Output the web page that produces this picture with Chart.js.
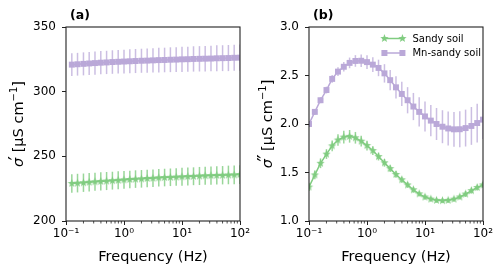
<!DOCTYPE html>
<html>
<head>
<meta charset="utf-8">
<script src="https://cdn.jsdelivr.net/npm/chart.js@4.4.1/dist/chart.umd.min.js"></script>
<style>
  html, body { margin: 0; padding: 0; background: #fff; }
  #wrap { position: relative; width: 500px; height: 274px; overflow: hidden; }
  .panel { position: absolute; top: 0; }
</style>
</head>
<body>
<div id="wrap">
  <canvas id="ca" class="panel" style="left:0" width="262" height="274"></canvas>
  <canvas id="cb" class="panel" style="left:250px" width="250" height="274"></canvas>
</div>
<script>
// frequencies (Hz), 10 per decade
const freq = [0.1, 0.126, 0.158, 0.2, 0.251, 0.316, 0.398, 0.501, 0.631, 0.794,
  1, 1.26, 1.58, 2, 2.51, 3.16, 3.98, 5.01, 6.31, 7.94,
  10, 12.6, 15.8, 20, 25.1, 31.6, 39.8, 50.1, 63.1, 79.4, 100];
const freqA = freq.slice(1);

const seriesNames = ['Sandy soil', 'Mn-sandy soil'];

// (a) real conductivity, uS/cm
const sandyA = [229.0, 229.3, 229.6, 230.0, 230.3, 230.6, 230.9, 231.2, 231.5, 231.8,
  232.1, 232.4, 232.6, 232.9, 233.1, 233.4, 233.6, 233.8, 234.0, 234.2,
  234.4, 234.6, 234.8, 235.0, 235.1, 235.3, 235.4, 235.6, 235.7, 235.9];
const sandyErrA = [7.2, 7.2, 7.1, 7.1, 7.0, 7.0, 7.0, 6.9, 6.9, 6.9,
  6.8, 6.8, 6.8, 6.8, 6.8, 6.8, 6.8, 6.8, 6.8, 6.9,
  6.9, 6.9, 7.0, 7.0, 7.0, 7.1, 7.1, 7.2, 7.2, 7.3];
const mnA = [320.9, 321.2, 321.5, 321.8, 322.1, 322.4, 322.6, 322.9, 323.1, 323.3,
  323.5, 323.7, 323.9, 324.0, 324.2, 324.4, 324.5, 324.7, 324.8, 325.0,
  325.1, 325.3, 325.4, 325.5, 325.6, 325.8, 325.9, 326.0, 326.2, 326.3];
const mnErrA = [8.8, 8.8, 8.9, 8.9, 9.0, 9.0, 9.0, 9.1, 9.1, 9.2,
  9.2, 9.3, 9.3, 9.4, 9.4, 9.5, 9.5, 9.6, 9.6, 9.7,
  9.7, 9.8, 9.8, 9.9, 9.9, 10.0, 10.0, 10.1, 10.1, 10.2];

// (b) imaginary conductivity, uS/cm
const sandyB = [1.35, 1.475, 1.595, 1.69, 1.775, 1.835, 1.865, 1.873, 1.858, 1.823,
  1.778, 1.726, 1.664, 1.6, 1.54, 1.48, 1.425, 1.372, 1.322, 1.28,
  1.247, 1.226, 1.213, 1.21, 1.213, 1.225, 1.248, 1.278, 1.313, 1.345, 1.372];
const sandyErrB = [0.04, 0.045, 0.05, 0.05, 0.055, 0.06, 0.065, 0.065, 0.06, 0.055,
  0.05, 0.045, 0.04, 0.04, 0.035, 0.035, 0.03, 0.03, 0.03, 0.025,
  0.025, 0.025, 0.025, 0.025, 0.025, 0.025, 0.025, 0.03, 0.03, 0.03, 0.03];
const mnB = [2.00, 2.125, 2.245, 2.35, 2.465, 2.54, 2.59, 2.63, 2.65, 2.652,
  2.638, 2.612, 2.578, 2.522, 2.452, 2.378, 2.31, 2.245, 2.18, 2.125,
  2.078, 2.035, 2.0, 1.972, 1.954, 1.945, 1.946, 1.958, 1.98, 2.01, 2.045];
const mnErrB = [0.03, 0.03, 0.03, 0.035, 0.04, 0.045, 0.05, 0.055, 0.06, 0.065,
  0.07, 0.075, 0.085, 0.095, 0.105, 0.115, 0.125, 0.135, 0.14, 0.15,
  0.155, 0.16, 0.165, 0.17, 0.175, 0.18, 0.185, 0.19, 0.195, 0.2, 0.2];

const xTickVals = [0.1, 1, 10, 100];
const xTickLabels = ['10⁻¹', '10⁰', '10¹', '10²'];
const yTicksA = [200, 250, 300, 350];
const yTicksB = [1.0, 1.5, 2.0, 2.5, 3.0];

const green = '#80cc80';
const greenBar = 'rgba(128,204,128,0.8)';
const purple = '#baa8d8';
const purpleBar = 'rgba(186,168,216,0.75)';
const FONT = 'DejaVu Sans';

function starImage(color, r) {
  const s = Math.ceil(r * 2 + 2);
  const c = document.createElement('canvas');
  c.width = c.height = s;
  const g = c.getContext('2d');
  g.fillStyle = color;
  g.beginPath();
  for (let k = 0; k < 10; k++) {
    const ang = -Math.PI / 2 + k * Math.PI / 5;
    const rr = k % 2 ? r * 0.42 : r;
    g.lineTo(s / 2 + rr * Math.cos(ang), s / 2 + rr * Math.sin(ang));
  }
  g.closePath();
  g.fill();
  return c;
}
const star = starImage(green, 4.4);

const minorTicks = [];
[0.1, 1, 10].forEach(d => { for (let m = 2; m <= 9; m++) minorTicks.push(d * m); });

const errorBars = {
  id: 'errorBars',
  beforeDatasetsDraw(chart) {
    const ctx = chart.ctx, a = chart.chartArea;
    const xs = chart.scales.x, ys = chart.scales.y;
    ctx.save();
    ctx.beginPath();
    ctx.rect(a.left, a.top, a.right - a.left, a.bottom - a.top);
    ctx.clip();
    chart.data.datasets.forEach(ds => {
      ctx.strokeStyle = ds.errorColor;
      ctx.lineWidth = 1.5;
      ds.data.forEach((p, i) => {
        const x = xs.getPixelForValue(p.x);
        ctx.beginPath();
        ctx.moveTo(x, ys.getPixelForValue(p.y - ds.errors[i]));
        ctx.lineTo(x, ys.getPixelForValue(p.y + ds.errors[i]));
        ctx.stroke();
      });
    });
    ctx.restore();
  }
};

function drawRich(ctx, segs, cx, cy) {
  // rotated y-axis title with italic sigma and superscript
  let total = 0;
  segs.forEach(s => {
    ctx.font = s.font;
    s.w = ctx.measureText(s.t).width + (s.pre || 0) + (s.gap || 0);
    total += s.w;
  });
  ctx.save();
  ctx.translate(cx, cy);
  ctx.rotate(-Math.PI / 2);
  ctx.fillStyle = '#000';
  ctx.textBaseline = 'alphabetic';
  let u = -total / 2;
  segs.forEach(s => {
    ctx.font = s.font;
    ctx.fillText(s.t, u + (s.pre || 0), 5 - (s.up || 0));
    u += s.w;
  });
  ctx.restore();
}

const decor = {
  id: 'decor',
  afterDraw(chart, args, opts) {
    const ctx = chart.ctx, a = chart.chartArea, xs = chart.scales.x;
    ctx.save();
    ctx.strokeStyle = '#222';
    ctx.lineWidth = 0.8;
    minorTicks.forEach(v => {
      const x = xs.getPixelForValue(v);
      ctx.beginPath();
      ctx.moveTo(x, a.bottom);
      ctx.lineTo(x, a.bottom + 2.5);
      ctx.stroke();
    });
    ctx.lineWidth = 1.1;
    ctx.strokeRect(a.left, a.top, a.right - a.left, a.bottom - a.top);

    ctx.fillStyle = '#000';
    ctx.font = 'bold 12.5px ' + FONT;
    ctx.fillText(opts.label, a.left + 4, a.top - 8);

    const tf = '14.5px ' + FONT;
    drawRich(ctx, [
      { t: 'σ', font: 'italic ' + tf },
      { t: opts.prime, font: '19px ' + FONT, up: 1, pre: -2.5, gap: -1 },
      { t: ' [μS cm', font: tf },
      { t: '−1', font: '10px ' + FONT, up: 6 },
      { t: ']', font: tf }
    ], opts.titleX, (a.top + a.bottom) / 2);

    if (opts.legend) {
      ctx.font = '10px ' + FONT;
      ctx.textBaseline = 'middle';
      const maxW = Math.max(...seriesNames.map(n => ctx.measureText(n).width));
      const tx = a.right - 2 - maxW;
      chart.data.datasets.forEach((ds, i) => {
        const y = a.top + 11.5 + i * 14.5;
        const x1 = tx - 8, x0 = x1 - 22;
        ctx.strokeStyle = ds.borderColor;
        ctx.lineWidth = 1.5;
        ctx.beginPath(); ctx.moveTo(x0, y); ctx.lineTo(x1, y); ctx.stroke();
        [x0 + 2, x1 - 2].forEach(mx => {
          if (ds.pointStyle === 'rect') {
            ctx.fillStyle = ds.backgroundColor;
            ctx.fillRect(mx - 3, y - 3, 6, 6);
          } else {
            ctx.drawImage(ds.pointStyle, mx - ds.pointStyle.width / 2, y - ds.pointStyle.height / 2);
          }
        });
        ctx.fillStyle = '#000';
        ctx.fillText(ds.label, tx, y + 0.5);
      });
    }
    ctx.restore();
  }
};

function series(label, xs, ys, errs, color, barColor, pointStyle) {
  return {
    label: label,
    data: xs.map((x, i) => ({ x: x, y: ys[i] })),
    errors: errs,
    errorColor: barColor,
    borderColor: color,
    backgroundColor: color,
    borderWidth: 1.5,
    pointStyle: pointStyle,
    pointRadius: 4.2,
    pointBorderWidth: 0,
    pointHoverRadius: 4.2,
    tension: 0,
    clip: 0
  };
}

function makePanel(id, datasets, yTicks, yFmt, yWidth, padRight, decoOpts) {
  return new Chart(document.getElementById(id), {
    type: 'line',
    data: { datasets: datasets },
    options: {
      responsive: false,
      animation: false,
      events: [],
      layout: { autoPadding: false, padding: { left: 0, right: padRight, top: 27, bottom: 0 } },
      plugins: { legend: { display: false }, tooltip: { enabled: false }, decor: decoOpts },
      scales: {
        x: {
          type: 'logarithmic',
          min: 0.1, max: 100,
          afterBuildTicks: s => { s.ticks = xTickVals.map(v => ({ value: v })); },
          afterFit: s => { s.height = 53; },
          grid: { drawOnChartArea: false, drawTicks: true, tickLength: 4, tickColor: '#222', tickWidth: 1 },
          border: { display: false },
          ticks: {
            autoSkip: false, maxRotation: 0, padding: 2, color: '#000',
            font: { family: FONT, size: 12 },
            callback: (v, i) => xTickLabels[i]
          },
          title: {
            display: true, text: 'Frequency (Hz)', color: '#000',
            font: { family: FONT, size: 14.5 }, padding: { top: 0, bottom: 8 }
          }
        },
        y: {
          min: yTicks[0], max: yTicks[yTicks.length - 1],
          afterBuildTicks: s => { s.ticks = yTicks.map(v => ({ value: v })); },
          afterFit: s => { s.width = yWidth; },
          grid: { drawOnChartArea: false, drawTicks: true, tickLength: 4, tickColor: '#222', tickWidth: 1 },
          border: { display: false },
          ticks: {
            padding: 6, color: '#000',
            font: { family: FONT, size: 12 },
            callback: yFmt
          }
        }
      }
    },
    plugins: [errorBars, decor]
  });
}

makePanel('ca', [
  series(seriesNames[0], freqA, sandyA, sandyErrA, green, greenBar, star),
  series(seriesNames[1], freqA, mnA, mnErrA, purple, purpleBar, 'rect')
], yTicksA, v => String(v), 66, 22, { label: '(a)', prime: '′', titleX: 18, legend: false });

makePanel('cb', [
  series(seriesNames[0], freq, sandyB, sandyErrB, green, greenBar, star),
  series(seriesNames[1], freq, mnB, mnErrB, purple, purpleBar, 'rect')
], yTicksB, v => v.toFixed(1), 59, 17, { label: '(b)', prime: '″', titleX: 17, legend: true });
</script>
</body>
</html>
